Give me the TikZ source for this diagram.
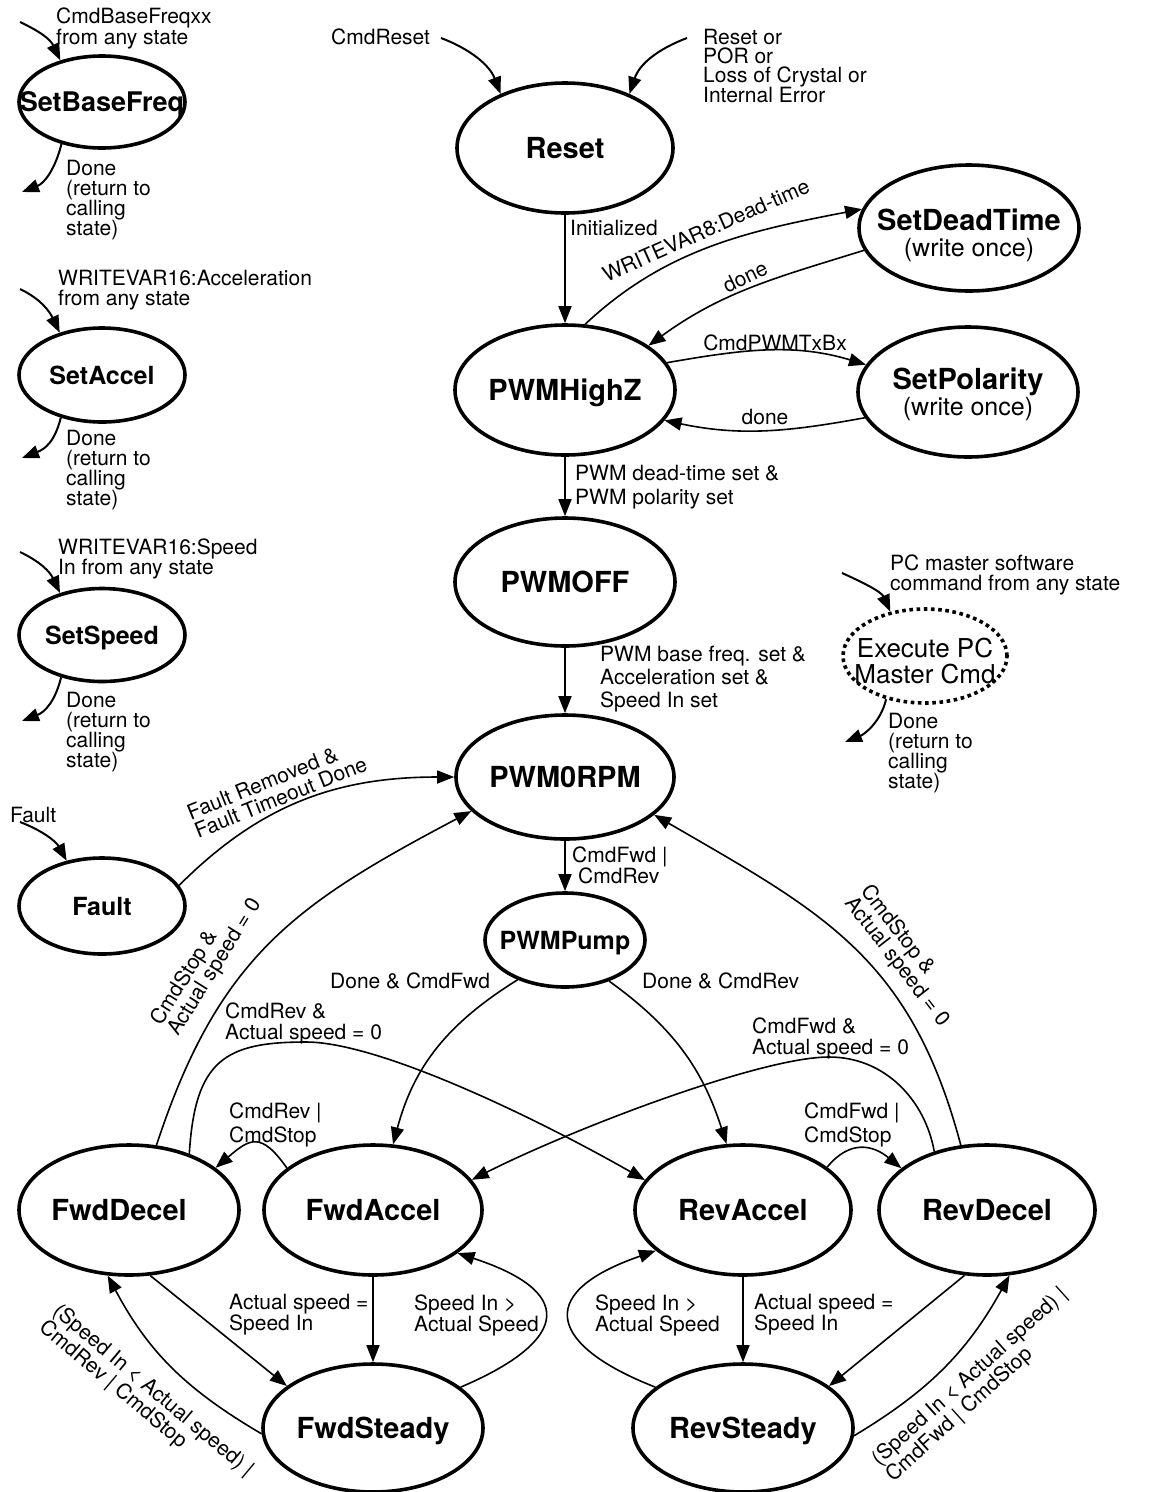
\documentclass[tikz,border=0pt]{standalone}
\usepackage{fontspec}
\setmainfont{TeX Gyre Heros}
\usetikzlibrary{shapes.geometric,arrows.meta}
\newcommand{\zw}[1]{\makebox[0pt]{\raisebox{0pt}[0.72em][0pt]{#1}}}
\newcommand{\mytwo}[3]{\makebox[0pt]{\raisebox{#3}[0pt][0pt]{\begin{tabular}{@{}c@{}}#1\\#2\end{tabular}}}}
\begin{document}
\begin{tikzpicture}[x=1pt,y=-1pt,
  base/.style={ellipse, draw, line width=3.6pt, inner sep=0pt},
  big/.style={base, font=\fontsize{29}{29}\selectfont\bfseries},
  small/.style={base, font=\fontsize{25}{25}\selectfont\bfseries},
  dims/.style 2 args={minimum width=#1pt, minimum height=#2pt},
  lbl/.style={font=\fontsize{21}{20}\selectfont, inner sep=0pt, align=left, anchor=west},
  rlbl/.style={font=\fontsize{21}{20}\selectfont, inner sep=0pt, align=left, anchor=center},
  edge/.style={line width=1.6pt, -{Triangle[length=17pt,width=13pt]}},
  entry/.style={line width=2pt, -{Triangle[length=17pt,width=13pt]}}
]
\useasboundingbox (0,0) rectangle (1161,1492);

% ---------- states
\node[small, dims={166}{92}, font=\fontsize{27}{27}\selectfont\bfseries] (sbf) at (102,102) {\zw{SetBaseFreq}};
\node[small, dims={166}{94}] (sacc) at (102,375) {\zw{SetAccel}};
\node[small, dims={166}{93}] (sspd) at (102,635) {\zw{SetSpeed}};
\node[small, dims={166}{96}] (fault) at (102,906) {\zw{Fault}};
\node[big, dims={216}{130}] (reset) at (565,148) {\zw{Reset}};
\node[big, dims={220}{130}] (hz) at (565,390) {\zw{PWMHighZ}};
\node[big, dims={220}{128}] (off) at (565,582) {\zw{PWMOFF}};
\node[big, dims={218}{124}] (zero) at (565,777) {\zw{PWM0RPM}};
\node[small, dims={160}{94}] (pump) at (565,940) {\zw{PWMPump}};
\node[base, dims={220}{126}, font=\fontsize{25}{26}\selectfont] (dead) at (969,228)
  {\mytwo{\fontsize{29}{26}\selectfont\bfseries SetDeadTime}{(write once)}{-14.5pt}};
\node[base, dims={220}{130}, font=\fontsize{25}{26}\selectfont] (pol) at (968,392)
  {\mytwo{\fontsize{29}{26}\selectfont\bfseries SetPolarity}{(write once)}{-10pt}};
\node[base, dims={164}{94}, dash pattern=on 3.6pt off 3.6pt, font=\fontsize{26}{23}\selectfont] (pc) at (925,656)
  {\mytwo{Execute PC}{Master Cmd}{-14.4pt}};
\node[big, dims={220}{130}] (fdec) at (129,1210) {\zw{FwdDecel\hspace*{20pt}}};
\node[big, dims={218}{130}] (facc) at (373,1210) {\zw{FwdAccel}};
\node[big, dims={216}{130}] (racc) at (743,1210) {\zw{RevAccel}};
\node[big, dims={216}{130}] (rdec) at (987,1210) {\zw{RevDecel}};
\node[big, dims={220}{128}] (fst) at (373,1428) {\zw{FwdSteady}};
\node[big, dims={220}{128}] (rst) at (743,1428) {\zw{RevSteady}};

% ---------- free ends
\coordinate (sbfin) at (20,22);
\coordinate (sbfout) at (22,192);
\coordinate (saccin) at (20,289);
\coordinate (saccout) at (22,458);
\coordinate (sspdin) at (20,552);
\coordinate (sspdout) at (22,721);
\coordinate (faultin) at (20,822);
\coordinate (pcin) at (842,573);
\coordinate (pcout) at (845,742);
\coordinate (cmdresetin) at (441,38);
\coordinate (porin) at (687,38);
\coordinate (apexl) at (306,1042);
\coordinate (apexr) at (829,1057);

% ---------- entry / exit arrows
\draw[entry] (sbfin) .. controls +(21,10) and +(-10,-21) .. (sbf.135);
\draw[entry] (sbf.226) .. controls +(-6,24) and +(23,-9) .. (sbfout);
\draw[entry] (saccin) .. controls +(21,10) and +(-10,-21) .. (sacc.135);
\draw[entry] (sacc.226) .. controls +(-6,24) and +(23,-9) .. (saccout);
\draw[entry] (sspdin) .. controls +(21,10) and +(-10,-21) .. (sspd.135);
\draw[entry] (sspd.226) .. controls +(-6,24) and +(23,-9) .. (sspdout);
\draw[entry] (faultin) .. controls +(21,8) and +(-11,-20) .. (fault.128);
\draw[entry] (pcin) .. controls +(20,9) and +(-9,-20) .. (pc.128);
\draw[entry] (pc.228) .. controls +(-5,22) and +(20,-8) .. (pcout);
\draw[entry] (cmdresetin) .. controls +(29,11) and +(-11,-29) .. (reset.140);
\draw[entry] (porin) .. controls +(-29,11) and +(10,-30) .. (reset.40);

% ---------- transitions
\draw[edge] (reset) -- (hz);
\draw[edge] (hz.73) .. controls +(80,-75) and +(-115,22) .. (dead.170);
\draw[edge] (dead.192) .. controls +(-87,27) and +(74,-54) .. (hz.28);
\draw[edge] (hz.15) .. controls +(75,-13) and +(-73,-22) .. (pol.165);
\draw[edge] (pol.194) .. controls +(-76,14) and +(76,16) .. (hz.343);
\draw[edge] (hz) -- (off);
\draw[edge] (off) -- (zero);
\draw[edge] (fault.15) .. controls +(82,-82) and +(-116,0) .. (zero.180);
\draw[edge] (zero) -- (pump);
\draw[edge] (pump.220) .. controls +(-69,43) and +(21,-79) .. (facc.73);
\draw[edge] (pump.317) .. controls +(64,46) and +(-24,-75) .. (racc.104);
\draw[edge] (fdec.67) .. controls +(62,-189) and +(-176,93) .. (zero.200);
\draw[edge] (rdec.112) .. controls +(-50,-188) and +(169,98) .. (zero.337);
\draw[edge] (fdec.43) .. controls (195,1060) and (225,1042) .. (apexl)
  .. controls (380,1042) and (540,1120) .. (racc.163);
\draw[edge] (rdec.132) .. controls (925,1100) and (885,1057) .. (apexr)
  .. controls (760,1057) and (570,1130) .. (facc.17);
\draw[edge] (facc.154) .. controls +(-26,-37) and +(34,-29) .. (fdec.26);
\draw[edge] (racc.27) .. controls +(23,-28) and +(-28,-23) .. (rdec.154);
\draw[edge] (facc) -- (fst);
\draw[edge] (fst.25) .. controls (560,1345) and (585,1295) .. (facc.333);
\draw[edge] (fdec.288) -- (fst.154);
\draw[edge] (fst.183) .. controls +(-75,-44) and +(41,77) .. (fdec.252);
\draw[edge] (racc) -- (rst);
\draw[edge] (rst.155) .. controls (555,1348) and (528,1295) .. (racc.205);
\draw[edge] (rdec.251) -- (rst.26);
\draw[edge] (rst.356) .. controls +(75,-45) and +(-42,76) .. (rdec.289);

% ---------- labels
\node[lbl, font=\fontsize{21}{19}\selectfont] (t1) at (56,28) {CmdBaseFreqxx\\from any state};
\node[lbl] (t2) at (66,200) {Done\\(return to\\calling\\state)};
\node[lbl] (t3) at (58,290) {WRITEVAR16:Acceleration\\from any state};
\node[lbl] (t4) at (66,470) {Done\\(return to\\calling\\state)};
\node[lbl] (t5) at (58,559) {WRITEVAR16:Speed\\In from any state};
\node[lbl] (t6) at (66,732) {Done\\(return to\\calling\\state)};
\node[lbl] (t7) at (10,815) {Fault};
\node[lbl] (t8) at (331,37) {CmdReset};
\node[lbl, font=\fontsize{21}{19}\selectfont] (t9) at (703,66) {Reset or\\POR or\\Loss of Crystal or\\Internal Error};
\node[lbl] (t10) at (570,228) {Initialized};
\node[rlbl, rotate=24] (t11) at (706,230) {WRITEVAR8:Dead-time};
\node[rlbl, rotate=26] (t12) at (745,277) {done};
\node[rlbl] (t13) at (775,343) {CmdPWMTxBx};
\node[rlbl] (t14) at (765,417) {done};
\node[lbl, font=\fontsize{21}{24}\selectfont] (t15) at (575,487) {PWM dead-time set \&\\PWM polarity set};
\node[lbl, font=\fontsize{21}{23}\selectfont] (t16) at (600,679) {PWM base freq. set \&\\Acceleration set \&\\Speed In set};
\node[lbl] (t17) at (890,575) {PC master software\\command from any state};
\node[lbl] (t18) at (888,753) {Done\\(return to\\calling\\state)};
\node[rlbl, rotate=22] (t19) at (277,788) {Fault Removed \&\\Fault Timeout Done};
\node[lbl] (t20) at (572,865) {CmdFwd |\\\hspace*{6pt}CmdRev};
\node[lbl] (t21) at (330,981) {Done \& CmdFwd};
\node[lbl] (t22) at (642,981) {Done \& CmdRev};
\node[rlbl, rotate=58] (t23) at (207,962) {CmdStop \&\\Actual speed = 0};
\node[rlbl, rotate=-52] (t24) at (905,956) {CmdStop \&\\Actual speed = 0};
\node[lbl, font=\fontsize{21}{21}\selectfont] (t25) at (225,1023) {CmdRev \&\\Actual speed = 0};
\node[lbl, font=\fontsize{21}{21}\selectfont] (t26) at (752,1038) {CmdFwd \&\\Actual speed = 0};
\node[lbl, font=\fontsize{21}{24}\selectfont] (t27) at (229,1125) {CmdRev |\\CmdStop};
\node[lbl, font=\fontsize{21}{24}\selectfont] (t28) at (804,1125) {CmdFwd |\\CmdStop};
\node[lbl, font=\fontsize{21}{21}\selectfont] (t29) at (229,1315) {Actual speed =\\Speed In};
\node[lbl, font=\fontsize{21}{21}\selectfont] (t30) at (414,1315) {Speed In >\\Actual Speed};
\node[lbl, font=\fontsize{21}{21}\selectfont] (t31) at (595,1315) {Speed In >\\Actual Speed};
\node[lbl, font=\fontsize{21}{21}\selectfont] (t32) at (754,1315) {Actual speed =\\Speed In};
\node[rlbl, rotate=-40] (t33) at (146,1399) {(Speed In < Actual speed) |\\CmdRev | CmdStop};
\node[rlbl, rotate=42] (t34) at (977,1385) {(Speed In < Actual speed) |\\CmdFwd | CmdStop};
\end{tikzpicture}
\end{document}
